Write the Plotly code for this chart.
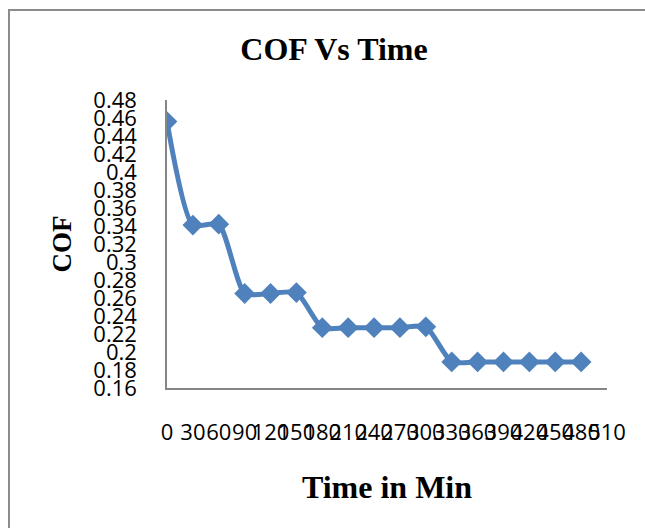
import plotly.graph_objects as go

# Data
times = [0, 30, 60, 90, 120, 150, 180, 210, 240, 270, 300, 330, 360, 390, 420, 450, 480, 510]
cof = [0.456, 0.341, 0.342, 0.265, 0.265, 0.266, 0.227, 0.227, 0.227, 0.227, 0.228,
       0.189, 0.189, 0.189, 0.189, 0.189, 0.189, None]
y_ticks = [0.16, 0.18, 0.20, 0.22, 0.24, 0.26, 0.28, 0.30, 0.32, 0.34, 0.36, 0.38,
           0.40, 0.42, 0.44, 0.46, 0.48]
y_tick_labels = [f"{v:g}" for v in y_ticks]
x_tick_labels = [str(t) for t in times]

W, H = 645, 528
L, R, T, B = 167, 38, 100, 140
pw, ph = W - L - R, H - T - B

def px_to_paper_x(px):
    return (px - L) / pw

def px_to_paper_y(py):
    return (H - B - py) / ph

blue = "#4F81BD"
axis_col = "#868686"
tick_font = dict(family="Open Sans", size=22, color="black")
serif_bold = "Liberation Serif"

fig = go.Figure()
fig.add_trace(go.Scatter(
    x=times, y=cof, mode="lines+markers",
    line=dict(color=blue, width=5, shape="spline", smoothing=0.6),
    marker=dict(symbol="diamond", size=16, color=blue),
    connectgaps=False, showlegend=False,
))

fig.update_layout(
    width=W, height=H,
    margin=dict(l=L, r=R, t=T, b=B, autoexpand=False),
    paper_bgcolor="white", plot_bgcolor="white",
    title=dict(text="<b>COF Vs Time</b>", x=334 / W, xanchor="center",
               y=1 - 49 / H, yanchor="middle",
               font=dict(family=serif_bold, size=32, color="black")),
    xaxis=dict(
        range=[0, 510], tickmode="array", tickvals=times, ticktext=x_tick_labels,
        tickangle=0, showgrid=False, zeroline=False,
        showline=True, linecolor=axis_col, linewidth=1.5,
        ticks="", ticklabelstandoff=24, tickfont=tick_font,
        title=dict(text="<b>Time in Min</b>", standoff=30,
                   font=dict(family=serif_bold, size=32, color="black")),
        fixedrange=True,
    ),
    yaxis=dict(
        range=[0.16, 0.48], tickmode="array", tickvals=y_ticks, ticktext=y_tick_labels,
        showgrid=False, zeroline=False,
        showline=True, linecolor=axis_col, linewidth=1.5,
        ticks="", ticklabelstandoff=24, tickfont=tick_font,
        title=dict(text="<b>COF</b>", standoff=14,
                   font=dict(family=serif_bold, size=27, color="black")),
        fixedrange=True,
    ),
    shapes=[dict(
        type="rect", xref="paper", yref="paper",
        x0=px_to_paper_x(9), x1=px_to_paper_x(660),
        y0=px_to_paper_y(545), y1=px_to_paper_y(10),
        line=dict(color="#8c8c8c", width=2), fillcolor="rgba(0,0,0,0)",
        layer="below",
    )],
)

fig.write_html("out.html")
